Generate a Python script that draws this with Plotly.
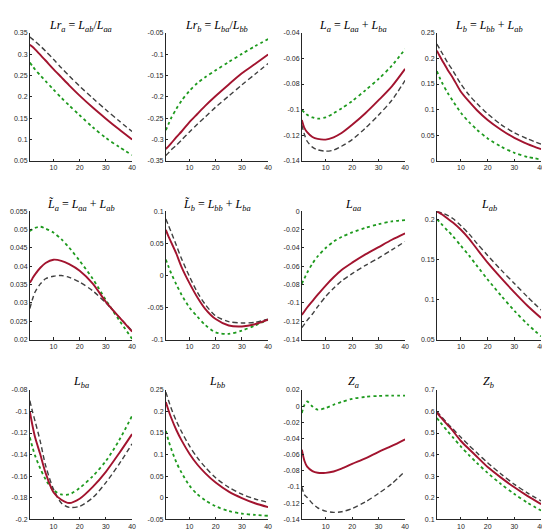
import plotly.graph_objects as go
from plotly.subplots import make_subplots

# horizon (quarters)
x = [1, 2, 3, 5, 7, 10, 13, 16, 20, 25, 30, 35, 40]

# each panel: solid (baseline), dashed, dotted
lra_solid = [0.322, 0.317, 0.311, 0.298, 0.285, 0.265, 0.246, 0.227, 0.203, 0.175, 0.149, 0.124, 0.100]
lra_dash = [0.340, 0.335, 0.330, 0.319, 0.307, 0.288, 0.268, 0.249, 0.225, 0.197, 0.170, 0.144, 0.119]
lra_dot = [0.280, 0.272, 0.264, 0.250, 0.237, 0.217, 0.198, 0.180, 0.157, 0.129, 0.104, 0.083, 0.064]

lrb_solid = [-0.322, -0.316, -0.309, -0.294, -0.281, -0.259, -0.240, -0.221, -0.198, -0.171, -0.145, -0.123, -0.101]
lrb_dash = [-0.337, -0.331, -0.324, -0.313, -0.301, -0.282, -0.264, -0.247, -0.224, -0.198, -0.172, -0.147, -0.122]
lrb_dot = [-0.278, -0.264, -0.250, -0.228, -0.209, -0.186, -0.168, -0.154, -0.138, -0.1185, -0.0995, -0.0815, -0.065]

la_solid = [-0.108, -0.1144, -0.1175, -0.1213, -0.1228, -0.1233, -0.1215, -0.1182, -0.1118, -0.1028, -0.0926, -0.0818, -0.0682]
la_dash = [-0.1118, -0.1195, -0.1246, -0.1292, -0.1313, -0.1323, -0.1315, -0.1285, -0.1233, -0.1144, -0.1041, -0.0926, -0.0772]
la_dot = [-0.1003, -0.1022, -0.104, -0.106, -0.107, -0.106, -0.1028, -0.099, -0.0933, -0.0849, -0.076, -0.0656, -0.0528]

lb_solid = [0.215, 0.205, 0.196, 0.178, 0.162, 0.135, 0.116, 0.099, 0.080, 0.061, 0.045, 0.033, 0.023]
lb_dash = [0.228, 0.219, 0.210, 0.192, 0.176, 0.150, 0.129, 0.112, 0.092, 0.071, 0.055, 0.043, 0.033]
lb_dot = [0.175, 0.163, 0.152, 0.133, 0.117, 0.094, 0.076, 0.061, 0.044, 0.028, 0.016, 0.008, 0.003]

lta_solid = [0.0355, 0.0367, 0.0378, 0.0396, 0.0409, 0.0418, 0.0415, 0.0406, 0.0388, 0.0353, 0.0303, 0.0262, 0.0222]
lta_dash = [0.0285, 0.031, 0.033, 0.0352, 0.0366, 0.0373, 0.0375, 0.037, 0.0357, 0.0333, 0.030, 0.0262, 0.0224]
lta_dot = [0.0496, 0.0501, 0.0505, 0.0508, 0.0503, 0.0492, 0.0474, 0.0451, 0.0415, 0.0366, 0.0308, 0.0254, 0.0202]

ltb_solid = [0.071, 0.061, 0.052, 0.034, 0.013, -0.012, -0.034, -0.052, -0.068, -0.078, -0.0795, -0.076, -0.069]
ltb_dash = [0.088, 0.078, 0.068, 0.047, 0.026, -0.0015, -0.026, -0.045, -0.063, -0.072, -0.074, -0.073, -0.068]
ltb_dot = [0.025, 0.014, 0.0036, -0.014, -0.030, -0.050, -0.064, -0.077, -0.0887, -0.091, -0.086, -0.078, -0.069]

laa_solid = [-0.113, -0.109, -0.105, -0.098, -0.091, -0.081, -0.072, -0.064, -0.056, -0.047, -0.039, -0.031, -0.024]
laa_dash = [-0.127, -0.123, -0.119, -0.112, -0.104, -0.093, -0.084, -0.076, -0.068, -0.059, -0.051, -0.042, -0.033]
laa_dot = [-0.079, -0.073, -0.067, -0.057, -0.049, -0.040, -0.033, -0.028, -0.023, -0.018, -0.014, -0.011, -0.0095]

lab_solid = [0.210, 0.208, 0.206, 0.201, 0.196, 0.187, 0.176, 0.163, 0.146, 0.127, 0.109, 0.092, 0.077]
lab_dash = [0.210, 0.209, 0.208, 0.205, 0.201, 0.192, 0.182, 0.170, 0.155, 0.137, 0.120, 0.103, 0.087]
lab_dot = [0.200, 0.197, 0.193, 0.186, 0.179, 0.167, 0.155, 0.142, 0.125, 0.105, 0.086, 0.069, 0.054]

lba_solid = [-0.100, -0.113, -0.124, -0.140, -0.157, -0.175, -0.182, -0.185, -0.181, -0.170, -0.156, -0.139, -0.121]
lba_dash = [-0.090, -0.100, -0.109, -0.128, -0.150, -0.172, -0.185, -0.189, -0.188, -0.180, -0.166, -0.149, -0.130]
lba_dot = [-0.124, -0.133, -0.141, -0.153, -0.163, -0.173, -0.177, -0.177, -0.171, -0.160, -0.146, -0.127, -0.104]

lbb_solid = [0.222, 0.203, 0.186, 0.157, 0.133, 0.102, 0.077, 0.057, 0.035, 0.014, -0.001, -0.013, -0.022]
lbb_dash = [0.245, 0.226, 0.208, 0.178, 0.153, 0.120, 0.093, 0.071, 0.046, 0.024, 0.008, -0.003, -0.011]
lbb_dot = [0.155, 0.133, 0.114, 0.082, 0.058, 0.028, 0.008, -0.006, -0.020, -0.031, -0.037, -0.040, -0.042]

za_solid = [-0.054, -0.068, -0.075, -0.0805, -0.0825, -0.0826, -0.081, -0.0775, -0.0716, -0.0647, -0.0566, -0.0493, -0.0411]
za_dash = [-0.100, -0.110, -0.113, -0.1205, -0.126, -0.130, -0.1315, -0.1308, -0.1267, -0.1186, -0.108, -0.096, -0.0806]
za_dot = [-0.0085, 0.0016, 0.0057, -0.0004, -0.0045, -0.0024, 0.0017, 0.005, 0.009, 0.0114, 0.0126, 0.013, 0.013]

zb_solid = [0.595, 0.580, 0.566, 0.538, 0.510, 0.463, 0.426, 0.390, 0.342, 0.293, 0.248, 0.207, 0.170]
zb_dash = [0.600, 0.586, 0.572, 0.545, 0.519, 0.480, 0.443, 0.408, 0.362, 0.310, 0.262, 0.221, 0.185]
zb_dot = [0.570, 0.554, 0.539, 0.509, 0.480, 0.437, 0.398, 0.361, 0.315, 0.263, 0.217, 0.176, 0.140]

titles = [
    "<i>Lr<sub>a</sub></i> = <i>L<sub>ab</sub></i>/<i>L<sub>aa</sub></i>",
    "<i>Lr<sub>b</sub></i> = <i>L<sub>ba</sub></i>/<i>L<sub>bb</sub></i>",
    "<i>L<sub>a</sub></i> = <i>L<sub>aa</sub></i> + <i>L<sub>ba</sub></i>",
    "<i>L<sub>b</sub></i> = <i>L<sub>bb</sub></i> + <i>L<sub>ab</sub></i>",
    "<i>L\u0303<sub>a</sub></i> = <i>L<sub>aa</sub></i> + <i>L<sub>ab</sub></i>",
    "<i>L\u0303<sub>b</sub></i> = <i>L<sub>bb</sub></i> + <i>L<sub>ba</sub></i>",
    "<i>L<sub>aa</sub></i>",
    "<i>L<sub>ab</sub></i>",
    "<i>L<sub>ba</sub></i>",
    "<i>L<sub>bb</sub></i>",
    "<i>Z<sub>a</sub></i>",
    "<i>Z<sub>b</sub></i>",
]

panels = [
    (lra_solid, lra_dash, lra_dot),
    (lrb_solid, lrb_dash, lrb_dot),
    (la_solid, la_dash, la_dot),
    (lb_solid, lb_dash, lb_dot),
    (lta_solid, lta_dash, lta_dot),
    (ltb_solid, ltb_dash, ltb_dot),
    (laa_solid, laa_dash, laa_dot),
    (lab_solid, lab_dash, lab_dot),
    (lba_solid, lba_dash, lba_dot),
    (lbb_solid, lbb_dash, lbb_dot),
    (za_solid, za_dash, za_dot),
    (zb_solid, zb_dash, zb_dot),
]

y_ranges = [
    [0.05, 0.35], [-0.35, -0.05], [-0.14, -0.04], [0, 0.25],
    [0.02, 0.055], [-0.1, 0.1], [-0.14, 0], [0.05, 0.21],
    [-0.2, -0.08], [-0.05, 0.25], [-0.14, 0.02], [0.1, 0.7],
]
y_ticks = [
    [0.05, 0.1, 0.15, 0.2, 0.25, 0.3, 0.35],
    [-0.35, -0.3, -0.25, -0.2, -0.15, -0.1, -0.05],
    [-0.14, -0.12, -0.1, -0.08, -0.06, -0.04],
    [0, 0.05, 0.1, 0.15, 0.2, 0.25],
    [0.02, 0.025, 0.03, 0.035, 0.04, 0.045, 0.05, 0.055],
    [-0.1, -0.05, 0, 0.05, 0.1],
    [-0.14, -0.12, -0.1, -0.08, -0.06, -0.04, -0.02, 0],
    [0.05, 0.1, 0.15, 0.2],
    [-0.2, -0.18, -0.16, -0.14, -0.12, -0.1, -0.08],
    [-0.05, 0, 0.05, 0.1, 0.15, 0.2, 0.25],
    [-0.14, -0.12, -0.1, -0.08, -0.06, -0.04, -0.02, 0, 0.02],
    [0.1, 0.2, 0.3, 0.4, 0.5, 0.6, 0.7],
]

W, H = 550, 530
col_px = [(22, 125), (159, 262), (296, 400), (432, 537)]
row_px = [(21, 151), (202, 332), (383, 514)]
title_px = [14, 196, 375]

styles = [
    dict(color="#A2142F", width=1.9),
    dict(color="#404040", width=1.4, dash="5px,3px"),
    dict(color="#1E9A1E", width=1.8, dash="dot"),
]

fig = make_subplots(rows=3, cols=4)

for i, series in enumerate(panels):
    r, c = i // 4 + 1, i % 4 + 1
    # draw dotted first, solid on top
    for k in (2, 1, 0):
        fig.add_trace(
            go.Scatter(x=x, y=series[k], mode="lines", line=dict(shape="spline", smoothing=0.8, **styles[k]),
                       showlegend=False, hoverinfo="skip"),
            row=r, col=c
        )
    x0, x1 = col_px[c - 1]
    y0, y1 = row_px[r - 1]
    fig.update_xaxes(domain=[x0 / W, x1 / W], range=[1, 40], tick0=10, dtick=10, row=r, col=c)
    fig.update_yaxes(domain=[1 - y1 / H, 1 - y0 / H], range=y_ranges[i], tickvals=y_ticks[i],
                     ticktext=[f"{t:g}" for t in y_ticks[i]], row=r, col=c)
    fig.add_annotation(text=titles[i], x=(x0 + x1) / 2 / W, y=1 - title_px[r - 1] / H,
                       xref="paper", yref="paper", showarrow=False, xanchor="center", yanchor="middle",
                       font=dict(family="Liberation Serif", size=12, color="black"))

axis_style = dict(showgrid=False, zeroline=False, showline=True, linecolor="#262626", linewidth=0.8,
                  ticks="inside", ticklen=2.5, tickcolor="#262626", tickwidth=0.8,
                  tickfont=dict(family="Liberation Sans", size=7, color="#262626"))
fig.update_xaxes(**axis_style)
fig.update_yaxes(**axis_style)

fig.update_layout(
    width=W, height=H,
    margin=dict(l=0, r=0, t=0, b=0),
    paper_bgcolor="white", plot_bgcolor="white",
    showlegend=False,
)

fig.write_html("out.html")
